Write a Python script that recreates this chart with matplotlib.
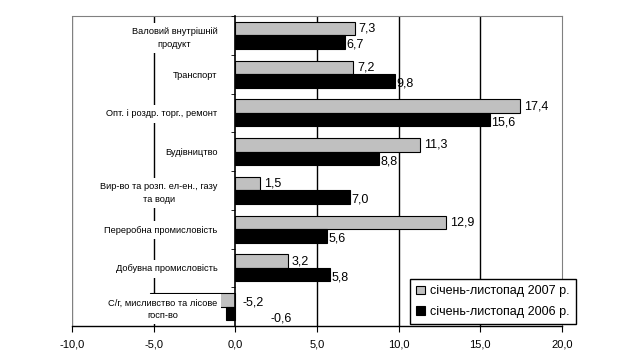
import numpy as np
import matplotlib.pyplot as plt

plt.rcParams['font.family'] = ['Liberation Sans', 'DejaVu Sans']

categories = [
    "Валовий внутрішній\nпродукт",
    "Транспорт",
    "Опт. і роздр. торг., ремонт",
    "Будівництво",
    "Вир-во та розп. ел-ен., газу\nта води",
    "Переробна промисловість",
    "Добувна промисловість",
    "С/г, мисливство та лісове\nгосп-во",
]
values_2007 = [7.3, 7.2, 17.4, 11.3, 1.5, 12.9, 3.2, -5.2]
values_2006 = [6.7, 9.8, 15.6, 8.8, 7.0, 5.6, 5.8, -0.6]
label_2007 = "січень-листопад 2007 р."
label_2006 = "січень-листопад 2006 р."
x_ticks = [-10, -5, 0, 5, 10, 15, 20]

fig = plt.figure(figsize=(6.35, 3.58), dpi=100)
ax = fig.add_axes([72 / 635, 1 - 326 / 358, 490 / 635, 310 / 358])

y = np.arange(len(categories))
h = 0.35
bars07 = ax.barh(y - h / 2, values_2007, height=h, color="#c0c0c0",
                 edgecolor="black", linewidth=0.8, zorder=2, label=label_2007)
bars06 = ax.barh(y + h / 2, values_2006, height=h, color="black",
                 edgecolor="black", linewidth=0.8, zorder=2, label=label_2006)

def fmt(v):
    return f"{v:.1f}".replace(".", ",")

# value labels; the negative ones sit to the right of zero like in the original
for i, (a, b) in enumerate(zip(values_2007, values_2006)):
    if a >= 0:
        ax.annotate(fmt(a), (a, i - h / 2), xytext=(3, 0), textcoords="offset points",
                    va="center", ha="left", fontsize=9, zorder=4)
    else:
        ax.annotate(fmt(a), (0, i - h / 2), xytext=(5, -2), textcoords="offset points",
                    va="center", ha="left", fontsize=9, zorder=4)
    if b >= 0:
        ax.annotate(fmt(b), (b, i + h / 2), xytext=(1, -2), textcoords="offset points",
                    va="center", ha="left", fontsize=9, zorder=4)
    else:
        ax.annotate(fmt(b), (0, i + h / 2), xytext=(25, -4), textcoords="offset points",
                    va="center", ha="left", fontsize=9, zorder=4)

ax.set_xlim(-10, 20)
ax.set_ylim(len(categories) - 0.5, -0.5)

for g in [-5, 5, 10, 15]:
    ax.axvline(g, color="black", linewidth=1, zorder=1)
ax.axvline(-10, color="#808080", linewidth=1, zorder=1)

ax.spines["left"].set_position(("data", 0))
ax.spines["left"].set_linewidth(1.2)
ax.spines["left"].set_zorder(3)
ax.spines["top"].set_color("#808080")
ax.spines["right"].set_color("#808080")
ax.spines["bottom"].set_linewidth(1)

ax.set_yticks(y)
ax.set_yticklabels(categories, fontsize=6.7, multialignment="center", linespacing=1.5)
ax.set_yticks(np.arange(len(categories) + 1) - 0.5, minor=True)
ax.tick_params(axis="y", which="major", length=0, pad=13)
ax.tick_params(axis="y", which="minor", length=3, direction="out")
for lab in ax.get_yticklabels():
    lab.set_bbox(dict(facecolor="white", edgecolor="none", pad=3))
ax.yaxis.set_zorder(3)

ax.set_xticks(x_ticks)
ax.set_xticklabels([fmt(v) for v in x_ticks], fontsize=8)
ax.tick_params(axis="x", length=4, pad=6)

fig.legend(handles=[bars07, bars06], loc="upper left",
           bbox_to_anchor=(410 / 635, 1 - 279 / 358), fontsize=9,
           frameon=True, fancybox=False, edgecolor="black", framealpha=1,
           handlelength=0.7, handleheight=0.7, handletextpad=0.4,
           labelspacing=0.7, borderpad=0.5, borderaxespad=0)

fig.savefig("out.png", dpi=100)
